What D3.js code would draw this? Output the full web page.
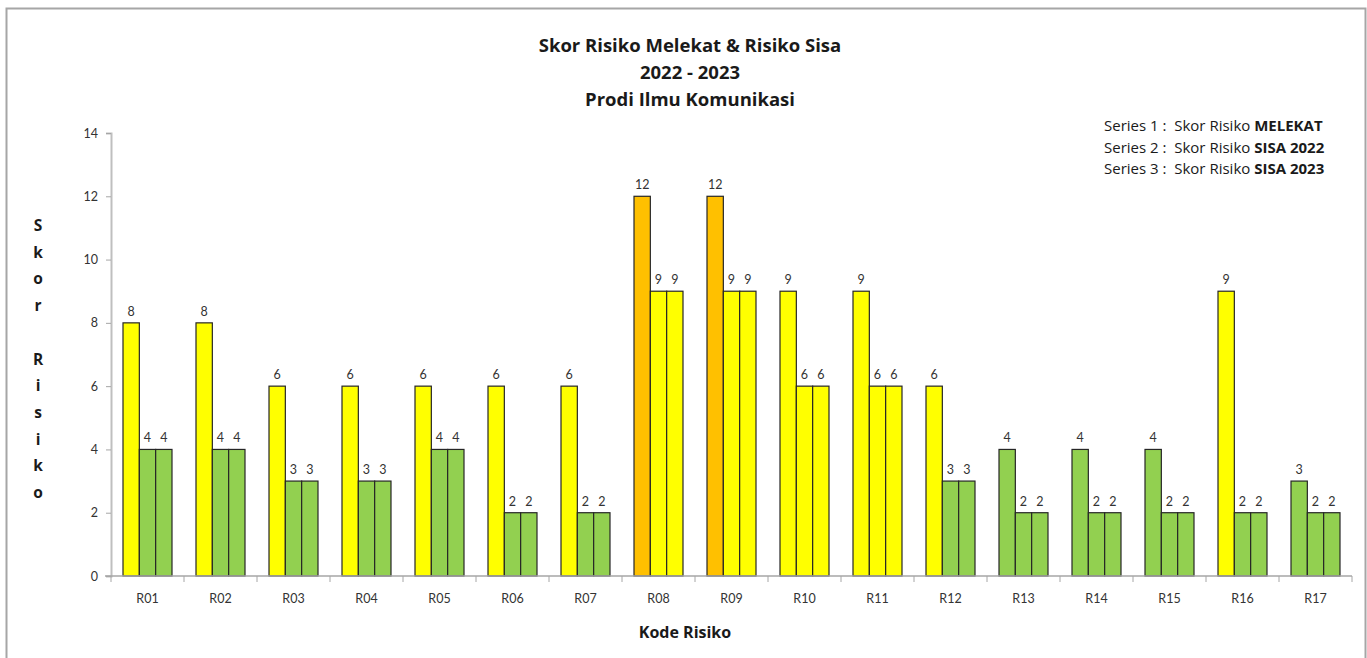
<!DOCTYPE html>
<html>
<head>
<meta charset="utf-8">
<script src="https://cdn.jsdelivr.net/npm/d3@7"></script>
<style>
  html, body { margin: 0; padding: 0; background: #fff; }
  svg { display: block; font-family: Lato, "Open Sans", sans-serif; }
  .pre { white-space: pre; }
</style>
</head>
<body>
<svg id="chart" width="1367" height="658"></svg>
<script>
// Risk codes and the three score series
const categories = ["R01","R02","R03","R04","R05","R06","R07","R08","R09","R10","R11","R12","R13","R14","R15","R16","R17"];
const melekat  = [8, 8, 6, 6, 6, 6, 6, 12, 12, 9, 9, 6, 4, 4, 4, 9, 3];
const sisa2022 = [4, 4, 3, 3, 4, 2, 2, 9, 9, 6, 6, 3, 2, 2, 2, 2, 2];
const sisa2023 = [4, 4, 3, 3, 4, 2, 2, 9, 9, 6, 6, 3, 2, 2, 2, 2, 2];
const seriesNames = ["Series 1", "Series 2", "Series 3"];
const yTicks = [0, 2, 4, 6, 8, 10, 12, 14];
const titleLines = ["Skor Risiko Melekat & Risiko Sisa", "2022 - 2023", "Prodi Ilmu Komunikasi"];
const legendItems = [
  { lead: "Series 1 :  Skor Risiko ", bold: "MELEKAT" },
  { lead: "Series 2 :  Skor Risiko ", bold: "SISA 2022" },
  { lead: "Series 3 :  Skor Risiko ", bold: "SISA 2023" }
];
const yTitle = "Skor Risiko";
const xTitle = "Kode Risiko";

const allSeries = [melekat, sisa2022, sisa2023];
const rows = categories.map((c, i) => ({
  code: c,
  values: allSeries.map((s, k) => ({ key: seriesNames[k], value: s[i] }))
}));

// Colour by risk level
function levelColor(v) {
  if (v >= 10) return "#FFC000";
  if (v >= 5) return "#FFFF00";
  return "#92D050";
}

const headFont = "'Open Sans', sans-serif";
const svg = d3.select("#chart");

// Outer chart frame
svg.append("rect")
  .attr("x", 6.5).attr("y", 8.5)
  .attr("width", 1359).attr("height", 660)
  .attr("fill", "#fff").attr("stroke", "#a6a6a6").attr("stroke-width", 2);

const plot = { left: 111, right: 1352, top: 133, bottom: 576 };

const x0 = d3.scaleBand().domain(categories).range([plot.left, plot.right]).padding(0);
const groupW = x0.bandwidth() * 3 / 4.47;
const x1 = d3.scaleBand().domain(seriesNames).range([0, groupW]).padding(0);
const y = d3.scaleLinear().domain([0, 14]).range([plot.bottom, plot.top]);

// Bars
const groups = svg.append("g").selectAll("g")
  .data(rows).join("g")
  .attr("transform", d => `translate(${x0(d.code) + (x0.bandwidth() - groupW) / 2},0)`);

groups.selectAll("rect")
  .data(d => d.values).join("rect")
  .attr("x", d => x1(d.key))
  .attr("y", d => y(d.value))
  .attr("width", x1.bandwidth())
  .attr("height", d => y(0) - y(d.value))
  .attr("fill", d => levelColor(d.value))
  .attr("stroke", "#262626").attr("stroke-width", 1.2);

// Value labels
groups.selectAll("text")
  .data(d => d.values).join("text")
  .attr("x", d => x1(d.key) + x1.bandwidth() / 2)
  .attr("y", d => y(d.value) - 7)
  .attr("text-anchor", "middle")
  .attr("font-size", 12.5)
  .attr("fill", "#333")
  .text(d => d.value);

// Y axis
const yAxis = svg.append("g")
  .attr("transform", `translate(${plot.left},0)`)
  .call(d3.axisLeft(y).tickValues(yTicks).tickSize(5).tickPadding(8));
yAxis.select(".domain").attr("stroke", "#bfbfbf").attr("stroke-width", 2);
yAxis.selectAll(".tick line").attr("stroke", "#a6a6a6");
yAxis.selectAll("text").attr("font-size", 12.5).attr("fill", "#333").attr("font-family", "Lato, sans-serif");

// X axis
const xAxis = svg.append("g")
  .attr("transform", `translate(0,${plot.bottom})`)
  .call(d3.axisBottom(x0).tickSize(0).tickPadding(18));
xAxis.select(".domain").attr("stroke", "#a6a6a6").attr("stroke-width", 1.5)
  .attr("d", `M${plot.left - 6},0H${plot.right}`);
xAxis.selectAll("text").attr("font-size", 12.5).attr("fill", "#333").attr("font-family", "Lato, sans-serif");
// Boundary ticks between categories
xAxis.selectAll(".boundary")
  .data(categories.concat(["_end"])).join("line")
  .attr("x1", (d, i) => plot.left + i * x0.bandwidth())
  .attr("x2", (d, i) => plot.left + i * x0.bandwidth())
  .attr("y1", 0).attr("y2", 6)
  .attr("stroke", "#a6a6a6");

// Title
svg.append("g").selectAll("text")
  .data(titleLines).join("text")
  .attr("x", 690)
  .attr("y", (d, i) => 52 + i * 27)
  .attr("text-anchor", "middle")
  .attr("font-family", headFont)
  .attr("font-size", 18.5).attr("font-weight", "bold").attr("fill", "#1a1a1a")
  .text(d => d);

// Legend notes
const leg = svg.append("g").selectAll("text")
  .data(legendItems).join("text")
  .attr("class", "pre")
  .attr("x", 1104)
  .attr("y", (d, i) => 131 + i * 21.5)
  .attr("font-family", headFont)
  .attr("font-size", 15).attr("fill", "#1a1a1a");
leg.append("tspan").text(d => d.lead);
leg.append("tspan").attr("font-weight", "bold").text(d => d.bold);

// Y axis title, one letter per line
svg.append("g").selectAll("text")
  .data(yTitle.split("")).join("text")
  .attr("x", 38)
  .attr("y", (d, i) => 231 + i * 26.7)
  .attr("text-anchor", "middle")
  .attr("font-family", headFont)
  .attr("font-size", 15.5).attr("font-weight", "bold").attr("fill", "#1a1a1a")
  .text(d => d);

// X axis title
svg.append("text")
  .attr("x", 685).attr("y", 638)
  .attr("text-anchor", "middle")
  .attr("font-family", headFont)
  .attr("font-size", 16).attr("font-weight", "bold").attr("fill", "#1a1a1a")
  .text(xTitle);
</script>
</body>
</html>
